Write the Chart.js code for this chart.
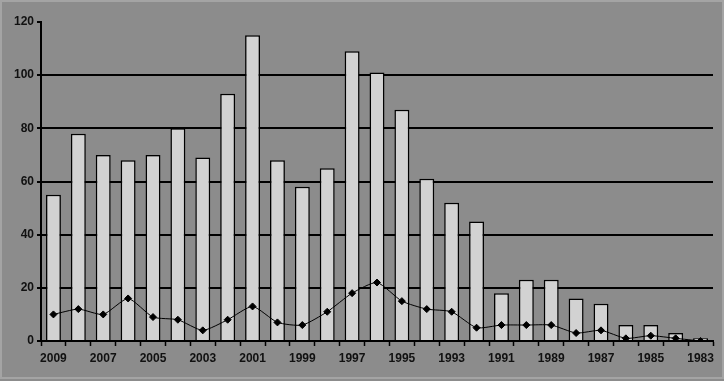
<!DOCTYPE html>
<html>
<head>
<meta charset="utf-8">
<script src="https://cdn.jsdelivr.net/npm/chart.js@4/dist/chart.umd.min.js"></script>
<style>
  html, body { margin: 0; padding: 0; background: #8c8c8c; }
  #wrap { width: 724px; height: 381px; position: relative; }
</style>
</head>
<body>
<div id="wrap"><canvas id="c" width="724" height="381"></canvas></div>
<script>
const years = ['2009','2008','2007','2006','2005','2004','2003','2002','2001','2000','1999','1998','1997','1996','1995','1994','1993','1992','1991','1990','1989','1988','1987','1986','1985','1984','1983'];
const barValues = [55,78,70,68,70,80,69,93,115,68,58,65,109,101,87,61,52,45,18,23,23,16,14,6,6,3,1];
const lineValues = [10,12,10,16,9,8,4,8,13,7,6,11,18,22,15,12,11,5,6,6,6,3,4,1,2,1,0];
const yTicks = [0,20,40,60,80,100,120];

const bgPlugin = {
  id: 'bg',
  beforeDraw(chart) {
    const ctx = chart.ctx;
    ctx.save();
    ctx.fillStyle = '#8c8c8c';
    ctx.fillRect(0, 0, chart.width, chart.height);
    ctx.strokeStyle = '#a4a4a4';
    ctx.lineWidth = 2;
    ctx.strokeRect(1, 1, chart.width - 2, chart.height - 4);
    ctx.restore();
  }
};

const font = { family: '"Liberation Sans", Arial, sans-serif', size: 12, weight: 'bold' };

new Chart(document.getElementById('c'), {
  type: 'bar',
  data: {
    labels: years,
    datasets: [
      {
        type: 'line',
        data: lineValues,
        borderColor: '#000',
        borderWidth: 1,
        backgroundColor: '#000',
        pointStyle: 'rectRot',
        pointRadius: 3.5,
        pointBackgroundColor: '#000',
        pointBorderColor: '#000',
        tension: 0.2,
        order: 1
      },
      {
        type: 'bar',
        data: barValues,
        backgroundColor: '#d2d2d2',
        borderColor: '#000',
        borderWidth: 1.5,
        categoryPercentage: 0.6,
        barPercentage: 1,
        order: 2
      }
    ]
  },
  options: {
    responsive: false,
    animation: false,
    devicePixelRatio: 1,
    layout: { padding: { top: 22, right: 11, bottom: 0, left: 0 } },
    plugins: { legend: { display: false }, tooltip: { enabled: false } },
    scales: {
      x: {
        offset: true,
        grid: {
          offset: true,
          drawOnChartArea: false,
          drawTicks: true,
          tickLength: 5,
          tickColor: '#000',
          tickWidth: 1.5
        },
        border: { color: '#000', width: 2 },
        ticks: {
          autoSkip: false,
          maxRotation: 0,
          color: '#111',
          font: font,
          padding: 5,
          callback: function(v, i) { return i % 2 === 0 ? years[i] : ''; }
        },
        afterFit(scale) { scale.height = 40; }
      },
      y: {
        min: 0,
        max: 120,
        afterBuildTicks(scale) { scale.ticks = yTicks.map(v => ({ value: v })); },
        grid: {
          color: (c) => (c.tick && (c.tick.value === 120 || c.tick.value === 0)) ? 'rgba(0,0,0,0)' : '#000',
          lineWidth: 2,
          tickColor: '#000',
          tickLength: 4,
          drawTicks: true
        },
        border: { color: '#000', width: 2 },
        ticks: {
          color: '#111',
          font: font,
          padding: 3
        },
        afterFit(scale) { scale.width = 41; }
      }
    }
  },
  plugins: [bgPlugin]
});
</script>
</body>
</html>
